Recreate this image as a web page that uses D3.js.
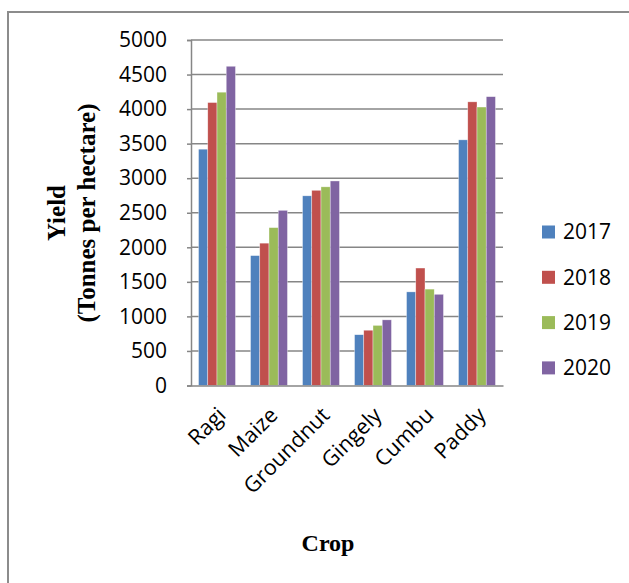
<!DOCTYPE html>
<html>
<head>
<meta charset="utf-8">
<script src="https://cdn.jsdelivr.net/npm/d3@7"></script>
<style>
  html, body { margin: 0; padding: 0; background: #fff; }
  svg { display: block; }
</style>
</head>
<body>
<svg id="chart" width="629" height="583"></svg>
<script>
const crops = ["Ragi", "Maize", "Groundnut", "Gingely", "Cumbu", "Paddy"];
const years = ["2017", "2018", "2019", "2020"];
const y2017 = [3420, 1880, 2745, 735, 1355, 3555];
const y2018 = [4095, 2060, 2825, 800, 1700, 4105];
const y2019 = [4245, 2285, 2875, 870, 1395, 4030];
const y2020 = [4620, 2535, 2960, 950, 1320, 4180];
const yTicks = [0, 500, 1000, 1500, 2000, 2500, 3000, 3500, 4000, 4500, 5000];
const colors = ["#4F81BD", "#C0504D", "#9BBB59", "#8064A2"];
const seriesValues = [y2017, y2018, y2019, y2020];

const svg = d3.select("#chart");
const tickFont = "'Open Sans', 'Liberation Sans', sans-serif";
const titleFont = "'Liberation Serif', 'Times New Roman', serif";

// outer border (extends past the picture on right/bottom)
svg.append("rect")
  .attr("x", 8).attr("y", 12)
  .attr("width", 700).attr("height", 700)
  .attr("fill", "none").attr("stroke", "#8c8c8c").attr("stroke-width", 2);

const plot = { left: 191, right: 503, top: 40, bottom: 385.5 };

const y = d3.scaleLinear().domain([0, 5000]).range([plot.bottom, plot.top]);
const x0 = d3.scaleBand().domain(crops).range([plot.left, plot.right])
  .paddingInner(0.29).paddingOuter(0.145);
const x1 = d3.scaleBand().domain(years).range([0, x0.bandwidth()]).padding(0);

// gridlines
svg.append("g").selectAll("line").data(yTicks.filter(d => d > 0)).join("line")
  .attr("x1", plot.left).attr("x2", plot.right)
  .attr("y1", d => y(d)).attr("y2", d => y(d))
  .attr("stroke", "#868686").attr("stroke-width", 1.5);

// y axis
const yAxis = d3.axisLeft(y).tickValues(yTicks).tickSize(4).tickPadding(20).tickFormat(d3.format("d"));
const gy = svg.append("g").attr("transform", `translate(${plot.left},0)`).call(yAxis);
gy.select(".domain").attr("stroke", "#868686").attr("stroke-width", 1.5);
gy.selectAll(".tick line").attr("stroke", "#868686").attr("stroke-width", 1.5);
gy.selectAll(".tick text").attr("font-family", tickFont).attr("font-size", 21).attr("fill", "#000");

// bars
const rows = crops.map((c, i) => ({ crop: c, vals: years.map((yr, j) => ({ year: yr, v: seriesValues[j][i], j })) }));
svg.append("g").selectAll("g").data(rows).join("g")
  .attr("transform", d => `translate(${x0(d.crop)},0)`)
  .selectAll("rect").data(d => d.vals).join("rect")
  .attr("x", d => x1(d.year))
  .attr("y", d => y(d.v))
  .attr("width", x1.bandwidth())
  .attr("height", d => y(0) - y(d.v))
  .attr("fill", d => colors[d.j])
  .attr("stroke", "#ffffff").attr("stroke-opacity", 0.6).attr("stroke-width", 0.6);

// x axis
const xAxis = d3.axisBottom(x0).tickSize(0).tickPadding(0);
const gx = svg.append("g").attr("transform", `translate(0,${plot.bottom})`).call(xAxis);
gx.select(".domain").attr("stroke", "#868686").attr("stroke-width", 1.5);
gx.selectAll(".tick text")
  .attr("font-family", tickFont).attr("font-size", 21.5).attr("fill", "#000")
  .attr("text-anchor", "end")
  .attr("dy", 0)
  .attr("transform", "translate(10,31) rotate(-45)");

// y title
const yt = svg.append("text")
  .attr("font-family", titleFont).attr("font-weight", "bold").attr("font-size", 25)
  .attr("fill", "#000").attr("text-anchor", "middle");
yt.append("tspan").attr("x", -213).attr("y", 65).text("Yield");
yt.append("tspan").attr("x", -213).attr("y", 95).text("(Tonnes per hectare)");
yt.attr("transform", "rotate(-90)");

// x title
svg.append("text")
  .attr("x", 328).attr("y", 551)
  .attr("font-family", titleFont).attr("font-weight", "bold").attr("font-size", 24)
  .attr("fill", "#000").attr("text-anchor", "middle").text("Crop");

// legend
const legend = svg.append("g").selectAll("g").data(years).join("g")
  .attr("transform", (d, i) => `translate(542,${232 + i * 45.3})`);
legend.append("rect").attr("x", 0).attr("y", -6.5).attr("width", 13).attr("height", 13)
  .attr("fill", (d, i) => colors[i]);
legend.append("text").attr("x", 21).attr("y", 0).attr("dy", "0.35em")
  .attr("font-family", tickFont).attr("font-size", 21).attr("fill", "#000").text(d => d);
</script>
</body>
</html>
